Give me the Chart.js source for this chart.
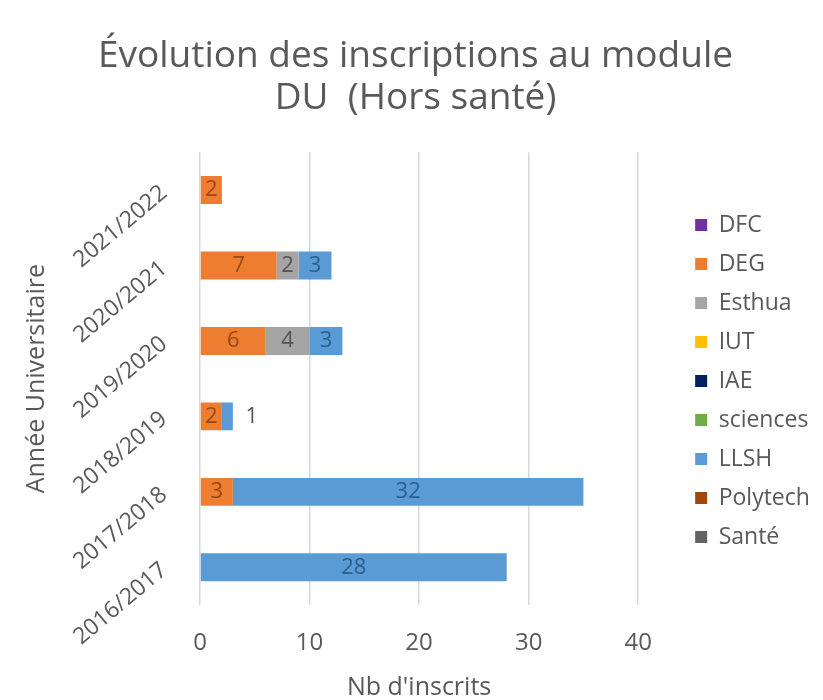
<!DOCTYPE html>
<html>
<head>
<meta charset="utf-8">
<script src="https://cdn.jsdelivr.net/npm/chart.js@4.4.1/dist/chart.umd.min.js"></script>
<style>html,body{margin:0;padding:0;background:#ffffff}canvas{display:block}</style>
</head>
<body>
<canvas id="c" width="823" height="700"></canvas>
<script>
// ---- data ----
const categories = ['2021/2022', '2020/2021', '2019/2020', '2018/2019', '2017/2018', '2016/2017'];
const seriesNames = ['DFC', 'DEG', 'Esthua', 'IUT', 'IAE', 'sciences', 'LLSH', 'Polytech', 'Santé'];
const DFC      = [0, 0, 0, 0, 0, 0];
const DEG      = [2, 7, 6, 2, 3, 0];
const Esthua   = [0, 2, 4, 0, 0, 0];
const IUT      = [0, 0, 0, 0, 0, 0];
const IAE      = [0, 0, 0, 0, 0, 0];
const sciences = [0, 0, 0, 0, 0, 0];
const LLSH     = [0, 3, 3, 1, 32, 28];
const Polytech = [0, 0, 0, 0, 0, 0];
const Sante    = [0, 0, 0, 0, 0, 0];
const xTicks = [0, 10, 20, 30, 40];
const titleLines = ['Évolution des inscriptions au module', 'DU  (Hors santé)'];
const xTitle = "Nb d'inscrits";
const yTitle = 'Année Universitaire';

// ---- styles ----
const seriesValues = [DFC, DEG, Esthua, IUT, IAE, sciences, LLSH, Polytech, Sante];
const seriesColors = ['#7030A0', '#ED7D31', '#A5A5A5', '#FFC000', '#002060', '#70AD47', '#5B9BD5', '#9E480E', '#636363'];
const labelColors  = ['#3E1A5A', '#9A4712', '#555555', '#8A6A00', '#AAB4D0', '#3D6627', '#2B5F8E', '#4E2407', '#2A2A2A'];
const TXT = '#595959';
const FONT = "'Open Sans', 'Noto Sans', sans-serif";
Chart.defaults.font.family = FONT;
Chart.defaults.color = TXT;

const datasets = seriesNames.map((name, i) => ({
  label: name,
  data: seriesValues[i],
  backgroundColor: seriesColors[i],
  borderWidth: 0,
  barPercentage: 0.37,
  categoryPercentage: 1.0,
  labelColor: labelColors[i]
}));

const barLabels = {
  id: 'barLabels',
  afterDatasetsDraw(chart) {
    const ctx = chart.ctx;
    chart.data.datasets.forEach((ds, di) => {
      const meta = chart.getDatasetMeta(di);
      if (meta.hidden) return;
      meta.data.forEach((bar, i) => {
        const v = ds.data[i];
        if (!v) return;
        const p = bar.getProps(['x', 'y', 'base'], true);
        const w = Math.abs(p.x - p.base);
        ctx.save();
        ctx.font = "22px " + FONT;
        ctx.textAlign = 'center';
        ctx.textBaseline = 'middle';
        if (w < 16) {
          ctx.fillStyle = TXT;
          ctx.fillText(String(v), p.x + 19, p.y);
        } else {
          ctx.fillStyle = ds.labelColor;
          ctx.fillText(String(v), (p.x + p.base) / 2, p.y);
        }
        ctx.restore();
      });
    });
  }
};

new Chart(document.getElementById('c'), {
  type: 'bar',
  data: { labels: categories, datasets: datasets },
  plugins: [barLabels],
  options: {
    indexAxis: 'y',
    responsive: false,
    animation: false,
    devicePixelRatio: 1,
    layout: { padding: { left: 20, right: 12, top: 0, bottom: 0 } },
    plugins: {
      tooltip: { enabled: false },
      title: {
        display: true,
        text: titleLines,
        color: TXT,
        font: { size: 37, weight: 'normal', lineHeight: 1.14 },
        padding: { top: 35, bottom: 33 }
      },
      legend: {
        position: 'right',
        align: 'center',
        title: { display: true, text: '', font: { size: 10, lineHeight: 1.2 }, padding: { top: 25, bottom: 25 } },
        labels: {
          boxWidth: 12,
          boxHeight: 12,
          padding: 16,
          color: TXT,
          font: { size: 23 }
        }
      }
    },
    scales: {
      x: {
        stacked: true,
        min: xTicks[0],
        max: xTicks[xTicks.length - 1],
        ticks: { stepSize: xTicks[1] - xTicks[0], padding: 24, color: TXT, font: { size: 24 } },
        grid: { color: '#D9D9D9', lineWidth: 1.5, drawTicks: false },
        border: { display: false },
        title: { display: true, text: xTitle, color: TXT, font: { size: 25, lineHeight: 1.0 }, padding: { top: 17, bottom: 0 } },
        afterFit(s) { s.height = 95; }
      },
      y: {
        stacked: true,
        grid: { display: false },
        border: { display: false },
        ticks: { minRotation: 40, maxRotation: 40, padding: 28, color: TXT, font: { size: 23 } },
        title: { display: true, text: yTitle, color: TXT, font: { size: 25 }, padding: { top: 2, bottom: 0 } },
        afterFit(s) { s.width = 180; }
      },
      gap: {
        type: 'linear',
        position: 'right',
        display: true,
        grid: { display: false },
        border: { display: false },
        ticks: { display: false },
        afterFit(s) { s.width = 41; }
      }
    }
  }
});
</script>
</body>
</html>
